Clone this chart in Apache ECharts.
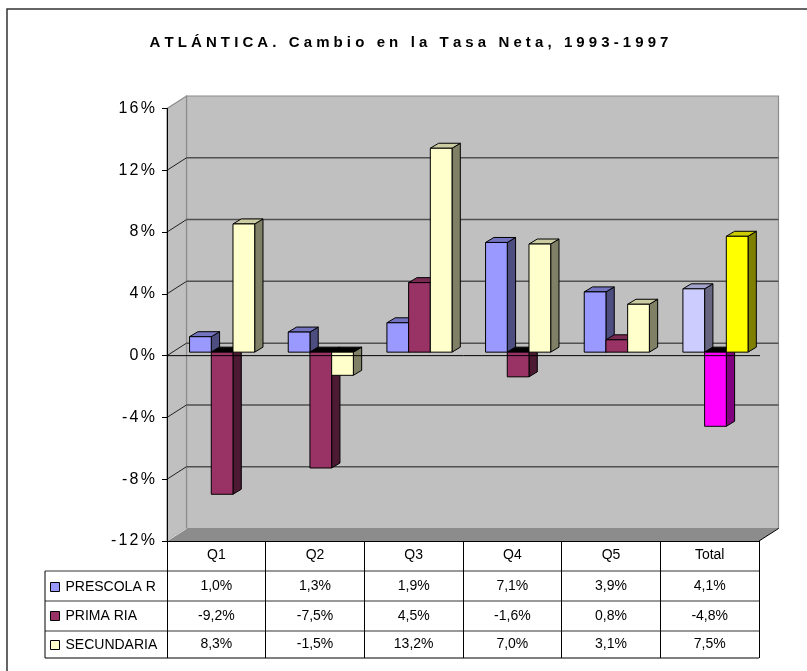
<!DOCTYPE html>
<html>
<head>
<meta charset="utf-8">
<script src="https://cdn.jsdelivr.net/npm/echarts@6.0.0/dist/echarts.min.js"></script>
<style>
  html, body { margin: 0; padding: 0; background: #fff; }
  #main { width: 807px; height: 671px; }
</style>
</head>
<body>
<div id="main"></div>
<script>
// data (table under the chart)
var categories = ['Q1', 'Q2', 'Q3', 'Q4', 'Q5', 'Total'];
var seriesNames = ['PRESCOLA R', 'PRIMA RIA', 'SECUNDARIA'];
var prescolar = [1.0, 1.3, 1.9, 7.1, 3.9, 4.1];
var primaria = [-9.2, -7.5, 4.5, -1.6, 0.8, -4.8];
var secundaria = [8.3, -1.5, 13.2, 7.0, 3.1, 7.5];
var yTicks = [-12, -8, -4, 0, 4, 8, 12, 16];

var FONT = '"Liberation Sans", Arial, sans-serif';

// 3d look: depth of the walls and of the bars
var DX = 19.5, DY = -12.5;
var PLANE_DX = 5.8, PLANE_DY = -3.5;
var BAR_DX = 8.3, BAR_DY = -5;

var palette = [
    { front: '#9999FF', top: '#7373C0', side: '#4D4D80' },
    { front: '#993366', top: '#7A2952', side: '#4D1A33' },
    { front: '#FFFFCC', top: '#CCCCA3', side: '#808066' }
];
var totalPalette = [
    { front: '#CCCCFF', top: '#A3A3CC', side: '#666680' },
    { front: '#FF00FF', top: '#CC00CC', side: '#800080' },
    { front: '#FFFF00', top: '#CCCC00', side: '#808000' }
];

function spaced(str, cls) {
    return str.split('').map(function (c) { return '{' + cls + '|' + c + '}'; }).join('');
}
function pct(v) {
    return v.toFixed(1).replace('.', ',') + '%';
}

function renderWalls(params, api) {
    var cs = params.coordSys;
    var L = cs.x, R = cs.x + cs.width, T = cs.y, B = cs.y + cs.height;
    var kids = [];
    kids.push({ type: 'polygon', shape: { points: [[L + DX, T + DY], [R + DX, T + DY], [R + DX, B + DY], [L + DX, B + DY]] },
        style: { fill: '#C0C0C0', stroke: '#8C8C8C', lineWidth: 1.2 } });
    kids.push({ type: 'polygon', shape: { points: [[L, T], [L + DX, T + DY], [L + DX, B + DY], [L, B]] },
        style: { fill: '#C0C0C0', stroke: '#8C8C8C', lineWidth: 1.2 } });
    kids.push({ type: 'polygon', shape: { points: [[L, B], [L + DX, B + DY], [R + DX, B + DY], [R, B]] },
        style: { fill: '#8C8C8C' } });
    kids.push({ type: 'line', shape: { x1: L, y1: B, x2: L + DX, y2: B + DY }, style: { stroke: '#E0E0E0', lineWidth: 1 } });
    kids.push({ type: 'line', shape: { x1: R, y1: B, x2: R + DX, y2: B + DY }, style: { stroke: '#000', lineWidth: 1 } });
    yTicks.forEach(function (t) {
        if (t <= yTicks[0] || t >= yTicks[yTicks.length - 1]) return;
        var y = api.coord([0, t])[1];
        kids.push({ type: 'line', shape: { x1: L + DX, y1: y + DY, x2: R + DX, y2: y + DY },
            style: { stroke: '#505050', lineWidth: 1.5 } });
        kids.push({ type: 'line', shape: { x1: L, y1: y, x2: L + DX, y2: y + DY },
            style: { stroke: '#202020', lineWidth: 1 } });
    });
    return { type: 'group', children: kids };
}

function barRenderer(k) {
    return function (params, api) {
        var i = api.value(0), v = api.value(1);
        var base = api.coord([i, 0]);
        var tip = api.coord([i, v]);
        var w = api.size([1, 0])[0] * 0.22;
        var c = i === categories.length - 1 ? totalPalette[k] : palette[k];
        var x0 = base[0] - 1.5 * w + k * w + PLANE_DX;
        var x1 = x0 + w;
        var yb = base[1] + PLANE_DY, yt = tip[1] + PLANE_DY;
        var top = Math.min(yb, yt), bot = Math.max(yb, yt);
        var edge = { stroke: '#000', lineWidth: 1 };
        return {
            type: 'group',
            children: [
                { type: 'polygon', shape: { points: [[x1, top], [x1 + BAR_DX, top + BAR_DY], [x1 + BAR_DX, bot + BAR_DY], [x1, bot]] },
                  style: Object.assign({ fill: c.side }, edge) },
                { type: 'polygon', shape: { points: [[x0, top], [x0 + BAR_DX, top + BAR_DY], [x1 + BAR_DX, top + BAR_DY], [x1, top]] },
                  style: Object.assign({ fill: v < 0 ? '#000' : c.top }, edge) },
                { type: 'rect', shape: { x: x0, y: top, width: w, height: bot - top },
                  style: Object.assign({ fill: c.front }, edge) }
            ]
        };
    };
}

function renderZero(params, api) {
    var cs = params.coordSys;
    var y = api.coord([0, 0])[1];
    return { type: 'line', shape: { x1: cs.x, y1: y, x2: cs.x + cs.width + 1, y2: y }, style: { stroke: '#000', lineWidth: 1 } };
}

var seriesData = [prescolar, primaria, secundaria];

function tableAxis(values, margin) {
    return {
        type: 'category', gridIndex: 0, position: 'bottom', offset: 0,
        data: values.map(pct),
        axisLine: { show: false, onZero: false },
        axisTick: { show: false },
        axisLabel: { interval: 0, margin: margin, verticalAlign: 'middle', fontSize: 14, color: '#000', fontFamily: FONT },
        splitLine: { show: false }
    };
}

window.onload = function () {
    var myChart = echarts.init(document.getElementById('main'));
    var title = 'ATLÁNTICA. Cambio en la Tasa Neta, 1993-1997';

    var option = {
        animation: false,
        backgroundColor: '#fff',
        title: {
            text: spaced(title, 't'),
            left: 409, top: 34, padding: 0, textAlign: 'center',
            textStyle: {
                fontSize: 15, fontWeight: 'bold', fontFamily: FONT, color: '#000',
                rich: { t: { fontSize: 15, fontWeight: 'bold', fontFamily: FONT, color: '#000', padding: [0, 2.05], lineHeight: 17 } }
            }
        },
        legend: {
            orient: 'vertical', left: 50, top: 580, padding: 0,
            itemWidth: 9, itemHeight: 9, itemGap: 15,
            icon: 'rect', selectedMode: false,
            data: seriesNames,
            itemStyle: { borderColor: '#000', borderWidth: 1 },
            textStyle: { fontSize: 14, color: '#000', fontFamily: FONT, padding: [0, 0, 0, 1] }
        },
        grid: { left: 167, right: 48, top: 108.5, bottom: 130, containLabel: false, outerBoundsMode: 'none' },
        xAxis: [
            {
                type: 'category', data: categories, z: 10,
                axisLine: { onZero: false, lineStyle: { color: '#000', width: 1 } },
                axisTick: { show: true, inside: false, length: 117, lineStyle: { color: '#000', width: 1 } },
                axisLabel: { interval: 0, margin: 14, verticalAlign: 'middle', fontSize: 14, color: '#000', fontFamily: FONT },
                splitLine: { show: false }
            },
            tableAxis(prescolar, 45.5),
            tableAxis(primaria, 75),
            tableAxis(secundaria, 103.5)
        ],
        yAxis: {
            type: 'value', min: yTicks[0], max: yTicks[yTicks.length - 1], interval: 4, z: 10,
            axisLine: { show: true, lineStyle: { color: '#000', width: 1 } },
            axisTick: { show: true, length: 5, lineStyle: { color: '#000', width: 1 } },
            axisLabel: {
                margin: 11, color: '#000', fontSize: 16, fontFamily: FONT,
                formatter: function (v) { return spaced(v + '%', 'n'); },
                rich: { n: { fontSize: 16, fontFamily: FONT, color: '#000', padding: [0, 1.1] } }
            },
            splitLine: { show: false }
        },
        series: [
            { name: 'walls', type: 'custom', z: 1, silent: true, renderItem: renderWalls, data: [[0, 0]] }
        ].concat(seriesNames.map(function (name, k) {
            return {
                name: name, type: 'custom', z: 2, silent: true,
                itemStyle: { color: palette[k].front },
                renderItem: barRenderer(k),
                encode: { x: 0, y: 1 },
                data: seriesData[k].map(function (v, i) { return [i, v]; })
            };
        })).concat([
            { name: 'zero', type: 'custom', z: 3, silent: true, renderItem: renderZero, data: [[0, 0]] }
        ]),
        graphic: [
            { type: 'polyline', shape: { points: [[7, 671], [7, 9], [807, 9]] }, style: { fill: null, stroke: '#333', lineWidth: 1.5 } },
            { type: 'line', shape: { x1: 45, y1: 571, x2: 759, y2: 571 }, style: { stroke: '#777', lineWidth: 1.5 } },
            { type: 'line', shape: { x1: 45, y1: 601, x2: 759, y2: 601 }, style: { stroke: '#777', lineWidth: 1.5 } },
            { type: 'line', shape: { x1: 45, y1: 631, x2: 759, y2: 631 }, style: { stroke: '#777', lineWidth: 1.5 } },
            { type: 'line', shape: { x1: 45, y1: 658, x2: 759, y2: 658 }, style: { stroke: '#000', lineWidth: 1 } },
            { type: 'line', shape: { x1: 45, y1: 571, x2: 45, y2: 658 }, style: { stroke: '#000', lineWidth: 1 } }
        ]
    };
    myChart.setOption(option, true);
};
</script>
</body>
</html>
